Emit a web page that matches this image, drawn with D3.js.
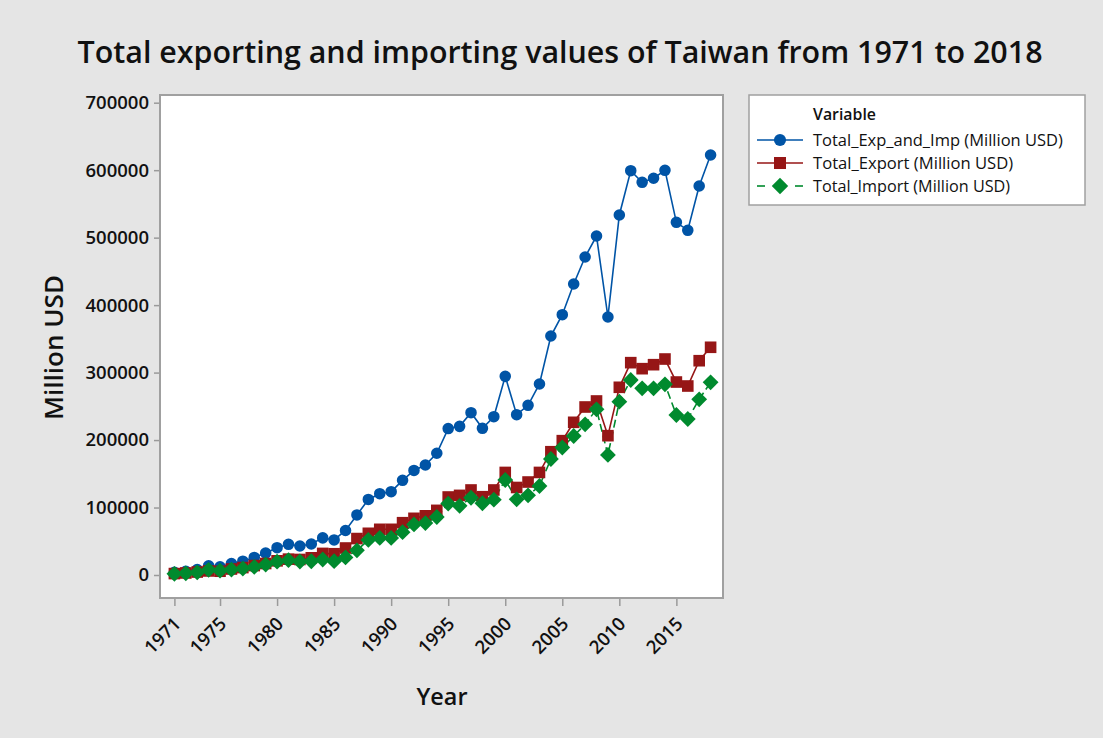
<!DOCTYPE html>
<html>
<head>
<meta charset="utf-8">
<script src="https://cdn.jsdelivr.net/npm/d3@7/dist/d3.min.js"></script>
<style>
  html, body { margin: 0; padding: 0; background: #e5e5e5; }
  svg { display: block; }
  text { font-family: "Open Sans", "Noto Sans", sans-serif; fill: #111; }
</style>
</head>
<body>
<svg id="chart" width="1103" height="738"></svg>
<script>
// ---- data ----
const years = d3.range(1971, 2019);
const totalExpImp = [3900, 5500, 8000, 13500, 12000, 17000, 20500, 26000, 32500, 40500,
  45500, 43000, 45900, 55000, 52000, 66000, 89000, 112000, 120500, 123500,
  140300, 155000, 163000, 180400, 217000, 220300, 240600, 217400, 234600, 294400,
  237600, 251500, 283100, 354200, 385800, 431300, 471300, 502400, 382400, 533600,
  599200, 582000, 588000, 599800, 522700, 510900, 576500, 622500];
const totalExport = [2100, 3000, 4400, 6000, 5600, 8900, 11000, 14000, 17000, 21000,
  23500, 23000, 25500, 32000, 31500, 40000, 54000, 61800, 67700, 67700,
  77500, 84000, 87700, 95800, 115600, 118000, 126000, 116000, 126000, 152000,
  129700, 137800, 152000, 182700, 199100, 226300, 249000, 257900, 206500, 278200,
  314700, 305800, 311700, 320100, 286000, 280100, 317600, 337500];
const totalImport = [1800, 2500, 3800, 7600, 6400, 8100, 9500, 12000, 15500, 19700,
  22000, 20000, 20400, 23000, 20500, 26000, 36500, 52000, 55000, 55000,
  63500, 75000, 77000, 86000, 105800, 102500, 114500, 106300, 111700, 140800,
  112200, 118100, 131900, 171900, 189000, 206000, 223300, 245600, 177900, 256900,
  289000, 276700, 276700, 282600, 237100, 231200, 260400, 285600];
const seriesNames = ["Total_Exp_and_Imp (Million USD)", "Total_Export (Million USD)", "Total_Import (Million USD)"];
const xTickValues = [1971, 1975, 1980, 1985, 1990, 1995, 2000, 2005, 2010, 2015];
const yTickValues = [0, 100000, 200000, 300000, 400000, 500000, 600000, 700000];

const titleText = "Total exporting and importing values of Taiwan from 1971 to 2018";
const xLabel = "Year";
const yLabel = "Million USD";
const legendTitle = "Variable";

const colors = ["#0054a6", "#961616", "#008a2e"];
// rotated-square diamond like Minitab
const symbolRotSquare = {
  draw(context, size) {
    const r = Math.sqrt(size / 2);
    context.moveTo(0, -r);
    context.lineTo(r, 0);
    context.lineTo(0, r);
    context.lineTo(-r, 0);
    context.closePath();
  }
};
const symbols = [d3.symbolCircle, d3.symbolSquare, symbolRotSquare];
const symSizes = [105, 135, 125];
const dashes = [null, null, "8,4"];

// ---- layout ----
const svg = d3.select("#chart");
const frame = { left: 160, right: 723, top: 95, bottom: 598 };

const x = d3.scaleLinear().domain([1971, 2018]).range([174.4, 710.6]);
const y = d3.scaleLinear().domain([0, 700000]).range([575, 102.7]);

function fitText(sel, target) {
  const node = sel.node();
  let fs = parseFloat(sel.attr("font-size"));
  for (let i = 0; i < 4; i++) {
    const w = node.getComputedTextLength();
    if (w > 0) { fs = fs * target / w; sel.attr("font-size", fs); }
  }
}

svg.append("rect").attr("width", 1103).attr("height", 738).attr("fill", "#e5e5e5");

// plot area
svg.append("rect")
  .attr("x", frame.left).attr("y", frame.top)
  .attr("width", frame.right - frame.left).attr("height", frame.bottom - frame.top)
  .attr("fill", "#ffffff");

svg.append("clipPath").attr("id", "clip").append("rect")
  .attr("x", frame.left).attr("y", frame.top)
  .attr("width", frame.right - frame.left).attr("height", frame.bottom - frame.top);

// axes
const yAxis = d3.axisLeft(y).tickValues(yTickValues).tickSize(6).tickPadding(5).tickFormat(d3.format("d"));
const gy = svg.append("g").attr("transform", `translate(${frame.left},0)`).call(yAxis);
gy.select(".domain").remove();
gy.selectAll(".tick line").attr("stroke", "#9a9a9a").attr("stroke-width", 1.5);
gy.selectAll(".tick text").attr("font-size", 18.5).attr("font-weight", 600).attr("fill", "#111")
  .attr("font-family", "\"Open Sans\", sans-serif");

const xAxis = d3.axisBottom(x).tickValues(xTickValues).tickSize(8).tickFormat(d3.format("d"));
const gx = svg.append("g").attr("transform", `translate(0,${frame.bottom})`).call(xAxis);
gx.select(".domain").remove();
gx.selectAll(".tick line").attr("stroke", "#9a9a9a").attr("stroke-width", 1.5);
gx.selectAll(".tick text")
  .attr("font-size", 18.5).attr("font-weight", 600).attr("fill", "#111")
  .attr("font-family", "\"Open Sans\", sans-serif")
  .attr("text-anchor", "end")
  .attr("x", 0).attr("y", 0).attr("dy", 0)
  .attr("transform", "translate(7,27) rotate(-45)");

// frame border
svg.append("rect")
  .attr("x", frame.left).attr("y", frame.top)
  .attr("width", frame.right - frame.left).attr("height", frame.bottom - frame.top)
  .attr("fill", "none").attr("stroke", "#a0a0a0").attr("stroke-width", 2);

// series
const series = [totalExpImp, totalExport, totalImport];
const plot = svg.append("g").attr("clip-path", "url(#clip)");
const line = d3.line().x((d, i) => x(years[i])).y(d => y(d));

[0, 1, 2].forEach(k => {
  plot.append("path")
    .datum(series[k])
    .attr("d", line)
    .attr("fill", "none")
    .attr("stroke", colors[k])
    .attr("stroke-width", 1.6)
    .attr("stroke-dasharray", dashes[k]);
});
[0, 1, 2].forEach(k => {
  plot.append("g").selectAll("path")
    .data(series[k])
    .join("path")
    .attr("transform", (d, i) => `translate(${x(years[i])},${y(d)})`)
    .attr("d", d3.symbol().type(symbols[k]).size(symSizes[k]))
    .attr("fill", colors[k]);
});

// title
const title = svg.append("text")
  .attr("x", 560).attr("y", 63)
  .attr("text-anchor", "middle")
  .attr("font-size", 30).attr("font-weight", 600)
  .text(titleText);
fitText(title, 965);

// axis labels
const xl = svg.append("text")
  .attr("x", 442).attr("y", 705)
  .attr("text-anchor", "middle")
  .attr("font-size", 24).attr("font-weight", 600)
  .text(xLabel);
fitText(xl, 51);

const yl = svg.append("text")
  .attr("transform", "translate(63,347.5) rotate(-90)")
  .attr("text-anchor", "middle")
  .attr("font-size", 24).attr("font-weight", 600)
  .text(yLabel);
fitText(yl, 145);

// legend
const lg = svg.append("g");
lg.append("rect")
  .attr("x", 749).attr("y", 95).attr("width", 336).attr("height", 110)
  .attr("fill", "#ffffff").attr("stroke", "#a0a0a0").attr("stroke-width", 1.5);
const lt = lg.append("text")
  .attr("x", 813).attr("y", 120)
  .attr("font-size", 15).attr("font-weight", 600)
  .text(legendTitle);
fitText(lt, 63);

const rowY = [140, 163, 186];
const targets = [250, 200, 197];
seriesNames.forEach((name, k) => {
  const cy = rowY[k];
  if (k === 2) {
    lg.append("line").attr("x1", 757).attr("x2", 765).attr("y1", cy).attr("y2", cy)
      .attr("stroke", colors[k]).attr("stroke-width", 1.6);
    lg.append("line").attr("x1", 795).attr("x2", 803).attr("y1", cy).attr("y2", cy)
      .attr("stroke", colors[k]).attr("stroke-width", 1.6);
  } else {
    lg.append("line").attr("x1", 757).attr("x2", 803).attr("y1", cy).attr("y2", cy)
      .attr("stroke", colors[k]).attr("stroke-width", 1.6);
  }
  lg.append("path")
    .attr("transform", `translate(780,${cy})`)
    .attr("d", d3.symbol().type(symbols[k]).size(symSizes[k] + 10))
    .attr("fill", colors[k]);
  const t = lg.append("text")
    .attr("x", 813).attr("y", cy + 5.5)
    .attr("font-size", 15).attr("fill", "#000")
    .text(name);
  fitText(t, targets[k]);
});
</script>
</body>
</html>
